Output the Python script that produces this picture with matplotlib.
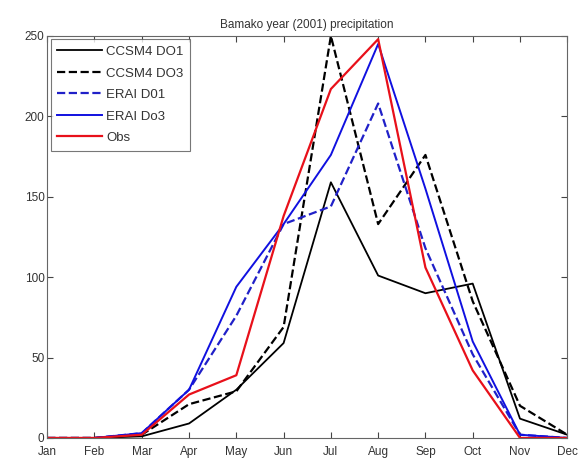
import matplotlib
matplotlib.use("Agg")
import matplotlib.pyplot as plt

plt.rcParams['font.family'] = ['Liberation Sans', 'DejaVu Sans']

# monthly precipitation, Bamako 2001
months = ['Jan', 'Feb', 'Mar', 'Apr', 'May', 'Jun', 'Jul', 'Aug', 'Sep', 'Oct', 'Nov', 'Dec']
ccsm4_d01 = [0, 0, 1, 9, 30, 59, 159, 101, 90, 96, 12, 2]
ccsm4_d03 = [0, 0, 2, 21, 29, 69, 250, 133, 176, 85, 20, 2]
erai_d01 = [0, 0, 3, 30, 76, 133, 144, 208, 118, 52, 2, 0]
erai_d03 = [0, 0, 3, 30, 94, 133, 176, 245, 155, 60, 2, 0]
obs = [0, 0, 2, 27, 39, 138, 217, 248, 106, 42, 0, 0]

x = list(range(1, 13))

fig = plt.figure(figsize=(5.83, 4.61), dpi=100)
ax = fig.add_axes([0.081, 0.050, 0.892, 0.872])

ax.plot(x, ccsm4_d01, color='black', linestyle='-', linewidth=1.3, label='CCSM4 DO1')
ax.plot(x, ccsm4_d03, color='black', linestyle='--', linewidth=1.6, label='CCSM4 DO3')
ax.plot(x, erai_d01, color='#2020c8', linestyle='--', linewidth=1.6, label='ERAI D01')
ax.plot(x, erai_d03, color='#1010e0', linestyle='-', linewidth=1.4, label='ERAI Do3')
ax.plot(x, obs, color='#e8101a', linestyle='-', linewidth=1.6, label='Obs')

ax.set_xlim(1, 12)
ax.set_ylim(0, 250)
ax.set_xticks(x)
ax.set_xticklabels(months)
ax.set_yticks([0, 50, 100, 150, 200, 250])
ax.tick_params(direction='in', top=True, right=True, labelsize=8.5, colors='#444444',
               labelcolor='#333333', length=4)
ax.tick_params(axis='x', pad=6)
ax.tick_params(axis='y', pad=2)
for s in ax.spines.values():
    s.set_color('#666666')
    s.set_linewidth(0.8)

ax.set_title('Bamako year (2001) precipitation', fontsize=8.5, color='#333333', pad=6)

leg = ax.legend(loc='upper left', fontsize=9.5, frameon=True, fancybox=False,
                handlelength=3.4, borderaxespad=0.25, labelspacing=0.7, handletextpad=0.3,
                borderpad=0.5)
leg.get_frame().set_edgecolor('#555555')
leg.get_frame().set_linewidth(0.8)
for t in leg.get_texts():
    t.set_color('#333333')

fig.savefig('out.png', dpi=100)
